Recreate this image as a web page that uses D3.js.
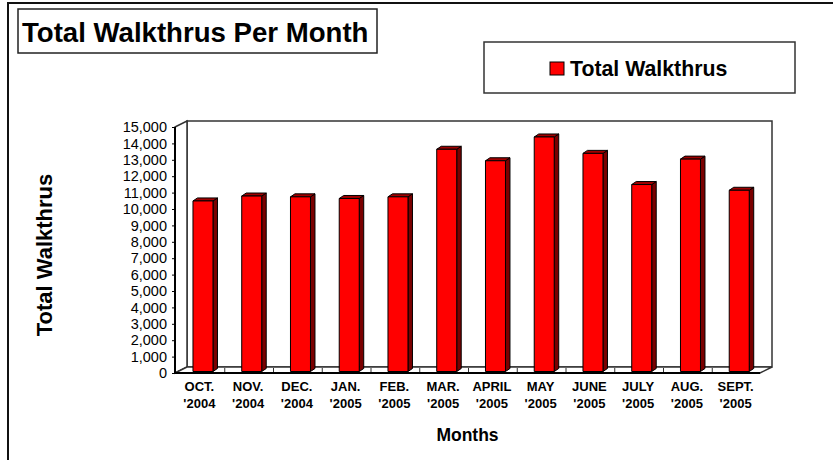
<!DOCTYPE html>
<html lang="en">
<head>
<meta charset="UTF-8">
<title>Total Walkthrus Per Month</title>
<script src="https://d3js.org/d3.v7.min.js"></script>
<style>
  body { margin: 0; background: #fff; }
  text { font-family: Arial, "Liberation Sans", sans-serif; }
</style>
</head>
<body>
<div id="chart"></div>
<script>
// chart data
var months = ["OCT.", "NOV.", "DEC.", "JAN.", "FEB.", "MAR.", "APRIL", "MAY", "JUNE", "JULY", "AUG.", "SEPT."];
var years = ["'2004", "'2004", "'2004", "'2005", "'2005", "'2005", "'2005", "'2005", "'2005", "'2005", "'2005", "'2005"];
var walkthrus = [10400, 10700, 10650, 10550, 10650, 13550, 12850, 14300, 13300, 11400, 12950, 11050];
var yTicks = d3.range(0, 15001, 1000);

var width = 833, height = 460;
var depth = { dx: 12, dy: -6 };     // depth of the 3d box
var barDepth = { dx: 4.5, dy: -3 }; // depth of each bar

var svg = d3.select("#chart").append("svg")
    .attr("width", width)
    .attr("height", height);

// outer frame (only top and left visible)
svg.append("path")
    .attr("d", "M8,460 L8,3 L833,3")
    .attr("fill", "none")
    .attr("stroke", "#111")
    .attr("stroke-width", 2);

var x = d3.scaleBand()
    .domain(months)
    .range([175, 760]);

var y = d3.scaleLinear()
    .domain([0, 15000])
    .range([373, 127]);

var x0 = x.range()[0], x1 = x.range()[1];
var yb = y(0), yt = y(15000);

// back wall, side wall and floor
var walls = svg.append("g").attr("fill", "#fff").attr("stroke", "#333").attr("stroke-width", 1.5);
walls.append("rect")
    .attr("x", x0 + depth.dx).attr("y", yt + depth.dy)
    .attr("width", x1 - x0).attr("height", yb - yt);
walls.append("path")
    .attr("d", "M" + x0 + "," + yt + "L" + (x0 + depth.dx) + "," + (yt + depth.dy) +
        "L" + (x0 + depth.dx) + "," + (yb + depth.dy) + "L" + x0 + "," + yb + "Z");
walls.append("path")
    .attr("d", "M" + x0 + "," + yb + "L" + (x0 + depth.dx) + "," + (yb + depth.dy) +
        "L" + (x1 + depth.dx) + "," + (yb + depth.dy) + "L" + x1 + "," + yb + "Z");

// category ticks on the floor
svg.append("g")
    .selectAll("line")
    .data(months.slice(1))
    .enter()
    .append("line")
    .attr("x1", function (d) { return x(d) + 1; })
    .attr("x2", function (d) { return x(d) + 1; })
    .attr("y1", yb - 5)
    .attr("y2", yb - 1)
    .attr("stroke", "#333")
    .attr("stroke-width", 1);

// bars
var bw = 20;
var offX = (x.bandwidth() - bw) / 2 + 3.6, offY = -1.5;
var bars = svg.append("g")
    .selectAll("g")
    .data(walkthrus)
    .enter()
    .append("g")
    .attr("stroke", "#000")
    .attr("stroke-width", 1)
    .attr("stroke-linejoin", "round");

bars.append("path")
    .attr("fill", "#7a0000")
    .attr("d", function (d, i) {
        var bx = x(months[i]) + offX + bw, top = y(d) + offY, bot = yb + offY;
        return "M" + bx + "," + bot + "L" + bx + "," + top +
            "L" + (bx + barDepth.dx) + "," + (top + barDepth.dy) +
            "L" + (bx + barDepth.dx) + "," + (bot + barDepth.dy) + "Z";
    });
bars.append("path")
    .attr("fill", "#a00000")
    .attr("d", function (d, i) {
        var bx = x(months[i]) + offX, top = y(d) + offY;
        return "M" + bx + "," + top + "L" + (bx + barDepth.dx) + "," + (top + barDepth.dy) +
            "L" + (bx + bw + barDepth.dx) + "," + (top + barDepth.dy) +
            "L" + (bx + bw) + "," + top + "Z";
    });
bars.append("rect")
    .attr("fill", "#ff0000")
    .attr("x", function (d, i) { return x(months[i]) + offX; })
    .attr("y", function (d) { return y(d) + offY; })
    .attr("width", bw)
    .attr("height", function (d) { return yb - y(d); });

// front axis lines
svg.append("path")
    .attr("d", "M" + x0 + "," + yt + "L" + x0 + "," + yb + "L" + x1 + "," + yb)
    .attr("fill", "none")
    .attr("stroke", "#000")
    .attr("stroke-width", 2);

// y axis
var yAxis = svg.append("g")
    .attr("transform", "translate(" + x0 + ",0)")
    .call(d3.axisLeft(y).tickValues(yTicks).tickFormat(d3.format(",")).tickSize(3).tickPadding(5));
yAxis.select(".domain").remove();
yAxis.selectAll(".tick line").attr("stroke", "#000");
yAxis.selectAll("text")
    .attr("fill", "#000")
    .style("font-size", "14.5px")
    .style("font-family", "Arial, 'Liberation Sans', sans-serif");

// x labels, two lines
var xl = svg.append("g")
    .selectAll("text")
    .data(months)
    .enter()
    .append("text")
    .attr("text-anchor", "middle")
    .style("font-size", "13px")
    .style("font-weight", "bold");
xl.append("tspan")
    .attr("x", function (d) { return x(d) + x.bandwidth() / 2; })
    .attr("y", 391)
    .text(function (d) { return d; });
xl.append("tspan")
    .attr("x", function (d) { return x(d) + x.bandwidth() / 2; })
    .attr("y", 408)
    .text(function (d, i) { return years[i]; });

// axis titles
svg.append("text")
    .attr("x", 467.5).attr("y", 441)
    .attr("text-anchor", "middle")
    .style("font-size", "17.5px")
    .style("font-weight", "bold")
    .text("Months");

svg.append("text")
    .attr("transform", "translate(51.5,255) rotate(-90)")
    .attr("text-anchor", "middle")
    .style("font-size", "22px")
    .style("font-weight", "bold")
    .text("Total Walkthrus");

// title box
svg.append("rect")
    .attr("x", 18).attr("y", 9).attr("width", 359).attr("height", 44)
    .attr("fill", "#fff").attr("stroke", "#222").attr("stroke-width", 1.5);
svg.append("text")
    .attr("x", 22).attr("y", 42)
    .style("font-size", "27.6px")
    .style("font-weight", "bold")
    .text("Total Walkthrus Per Month");

// legend
svg.append("rect")
    .attr("x", 484).attr("y", 42).attr("width", 311).attr("height", 51)
    .attr("fill", "#fff").attr("stroke", "#333").attr("stroke-width", 1.5);
svg.append("rect")
    .attr("x", 550).attr("y", 62).attr("width", 14).attr("height", 13)
    .attr("fill", "#ff0000").attr("stroke", "#000").attr("stroke-width", 1);
svg.append("text")
    .attr("x", 570).attr("y", 76)
    .style("font-size", "21.3px")
    .style("font-weight", "bold")
    .text("Total Walkthrus");
</script>
</body>
</html>
